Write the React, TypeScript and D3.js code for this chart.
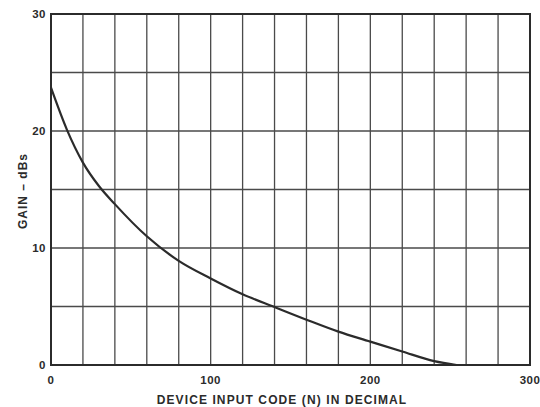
import { useMemo } from 'react';
import * as d3 from 'd3';

// curve: device input code N -> gain in dB
const codes = [0, 10, 20, 30, 40, 60, 80, 100, 120, 140, 160, 180, 200, 220, 240, 254];
const gains = [23.7, 20.1, 17.3, 15.3, 13.75, 11.0, 8.9, 7.4, 6.05, 4.95, 3.87, 2.85, 2.0, 1.15, 0.33, 0];

const xTicks = [0, 100, 200, 300];
const yTicks = [0, 10, 20, 30];
const xGrid = d3.range(0, 301, 20);
const yGrid = d3.range(0, 31, 5);

const width = 540;
const height = 407;
const margin = { top: 14, right: 10, bottom: 42, left: 51 };
const ink = '#2b2b2b';
const font = '"Liberation Sans", Arial, sans-serif';

export default function App() {
    const xScale = useMemo(
        () => d3.scaleLinear().domain([0, 300]).range([margin.left, width - margin.right]),
        []
    );
    const yScale = useMemo(
        () => d3.scaleLinear().domain([0, 30]).range([height - margin.bottom, margin.top]),
        []
    );

    const line = d3
        .line<number>()
        .x((_d, i) => xScale(codes[i]))
        .y((d) => yScale(d))
        .curve(d3.curveMonotoneX);

    const x0 = xScale(0);
    const x1 = xScale(300);
    const y0 = yScale(0);
    const y1 = yScale(30);

    return (
        <svg
            width={width}
            height={height}
            viewBox={`0 0 ${width} ${height}`}
            style={{ position: 'absolute', left: 0, top: 0, background: '#fff' }}
        >
            <g stroke={ink} strokeWidth={1.3} opacity={0.85}>
                {xGrid.map((d) => (
                    <line key={'x' + d} x1={xScale(d)} x2={xScale(d)} y1={y0} y2={y1} />
                ))}
                {yGrid.map((d) => (
                    <line key={'y' + d} x1={x0} x2={x1} y1={yScale(d)} y2={yScale(d)} />
                ))}
            </g>
            <rect
                x={x0}
                y={y1}
                width={x1 - x0}
                height={y0 - y1}
                fill="none"
                stroke={ink}
                strokeWidth={2}
            />
            <path d={line(gains) ?? ''} fill="none" stroke={ink} strokeWidth={2.2} />
            <g fontFamily={font} fontWeight="bold" fontSize={11.5} fill={ink} letterSpacing={0.5}>
                {xTicks.map((d) => (
                    <text key={d} x={xScale(d)} y={y0 + 19} textAnchor="middle">
                        {d}
                    </text>
                ))}
                {yTicks.map((d) => (
                    <text key={d} x={x0 - 5} y={yScale(d) + 4} textAnchor="end">
                        {d}
                    </text>
                ))}
                <text x={282} y={404} textAnchor="middle" fontSize={12} letterSpacing={1.1}>
                    DEVICE INPUT CODE (N) IN DECIMAL
                </text>
                <text
                    transform={`translate(27, 191) rotate(-90)`}
                    textAnchor="middle"
                    fontSize={12}
                    letterSpacing={1}
                >
                    GAIN  –  dBs
                </text>
            </g>
        </svg>
    );
}
